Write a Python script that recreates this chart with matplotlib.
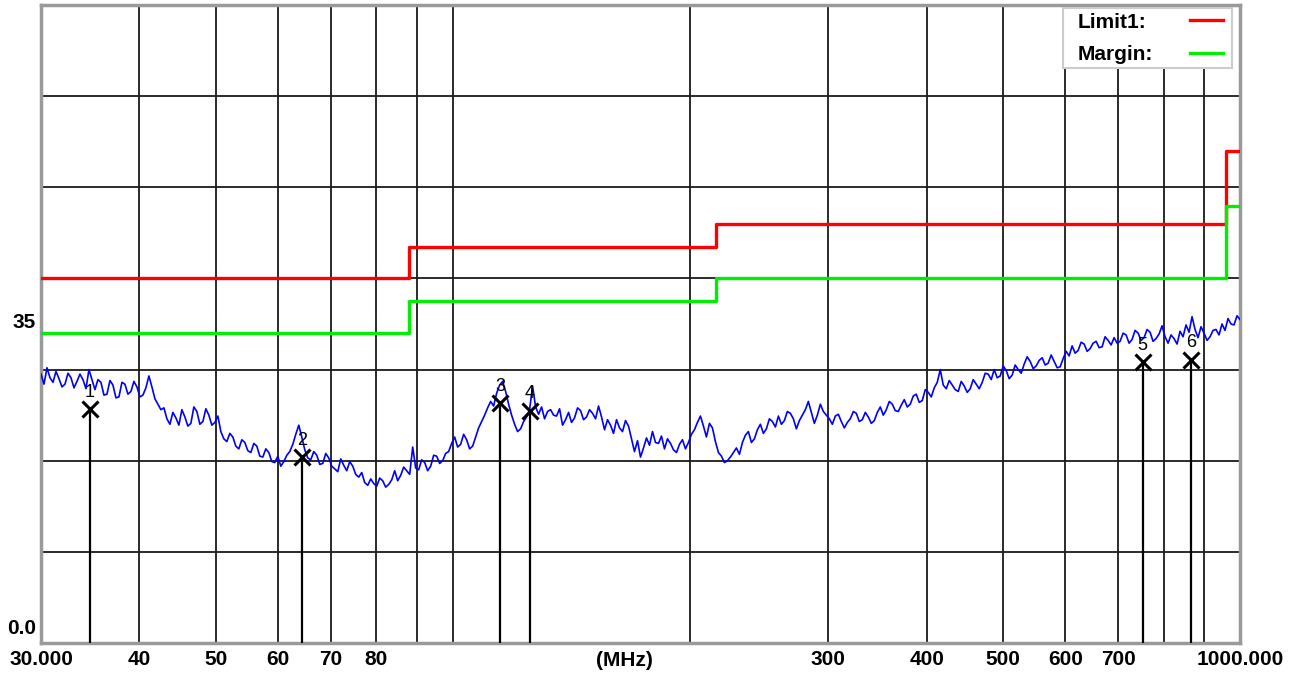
import matplotlib
matplotlib.use("Agg")
import matplotlib.pyplot as plt
import numpy as np
from matplotlib.patches import Rectangle
from matplotlib.lines import Line2D
from matplotlib.ticker import NullLocator

plt.rcParams['font.family'] = ['Liberation Sans', 'DejaVu Sans']

# ---- data ----
limit_freq = [30, 88, 216, 960, 1000]
limit_level = [40, 43.5, 46, 54, 54]
margin_level = [34, 37.5, 40, 48, 48]

# measured trace (dBuV/m), sweep points evenly spaced on the log frequency axis 30..1000 MHz
trace_level = [
    29.5, 28.4, 30.2, 29.1, 28.6, 29.8, 29.0, 28.1, 28.4, 29.6,
    29.1, 28.0, 28.7, 29.5, 28.9, 27.9, 30.0, 28.9, 27.8, 28.9,
    28.6, 27.2, 27.3, 28.8, 28.3, 26.9, 27.0, 28.6, 28.4, 27.3,
    27.6, 28.7, 28.1, 27.0, 27.2, 28.0, 29.3, 28.1, 26.8, 26.2,
    25.6, 25.8, 24.6, 24.0, 25.3, 24.7, 23.9, 25.6, 24.8, 23.8,
    24.1, 25.9, 25.4, 24.0, 24.3, 25.7, 25.0, 23.9, 24.2, 24.9,
    23.2, 22.4, 22.1, 23.0, 22.6, 21.6, 21.3, 22.3, 22.0, 21.1,
    20.9, 21.9, 21.6, 20.5, 20.4, 21.3, 20.9, 19.9, 19.8, 20.5,
    19.4, 19.9, 20.6, 21.0, 21.8, 22.9, 23.9, 22.6, 21.2, 20.3,
    20.1, 21.0, 20.6, 19.6, 19.7, 20.8, 20.3, 19.4, 19.1, 18.8,
    20.2, 19.5, 18.9, 19.9, 19.4, 18.5, 18.2, 18.7, 17.6, 17.3,
    18.0, 17.5, 17.2, 18.1, 17.8, 17.1, 17.4, 17.9, 18.9, 17.8,
    18.4, 19.3, 18.9, 18.5, 21.5, 19.2, 19.0, 20.1, 19.8, 18.9,
    19.4, 20.6, 20.5, 19.7, 20.0, 20.8, 21.0, 21.9, 22.6, 21.5,
    21.8, 22.9, 22.3, 21.3, 21.6, 22.6, 23.6, 24.3, 25.0, 25.8,
    26.5, 26.0, 27.4, 28.3, 28.7, 27.6, 26.2, 25.0, 24.0, 23.2,
    23.5, 24.3, 24.8, 25.6, 28.2, 25.9, 25.1, 25.9, 24.6, 25.4,
    25.6, 25.0, 24.9, 25.7, 23.9, 24.5, 25.3, 24.2, 24.7, 25.8,
    25.5, 24.5, 24.8, 25.6, 25.2, 24.6, 26.0, 24.8, 23.4, 24.5,
    23.9, 23.0, 24.5, 23.6, 23.2, 24.4, 23.8, 22.4, 21.0, 22.2,
    20.4, 21.4, 22.5, 21.7, 23.2, 22.0, 21.9, 22.7, 21.3, 22.4,
    21.9, 21.2, 20.9, 21.8, 22.3, 21.3, 22.0, 22.9, 23.4, 24.2,
    24.9, 23.8, 22.6, 24.1, 23.6, 22.1, 20.9, 20.5, 19.8, 20.0,
    20.4, 20.9, 21.4, 20.7, 22.0, 22.8, 23.2, 22.0, 22.4, 23.4,
    24.0, 23.0, 23.5, 24.6, 24.3, 23.7, 24.9, 24.0, 24.4, 25.4,
    25.2, 24.6, 23.5, 24.4, 25.0, 25.6, 26.5, 25.3, 24.1, 25.0,
    26.2, 25.4, 25.0, 24.6, 24.0, 24.9, 25.1, 24.3, 23.6, 24.2,
    24.6, 25.4, 25.2, 24.3, 24.5, 25.3, 24.8, 24.1, 24.4, 25.3,
    25.9, 25.0, 25.6, 26.5, 26.2, 25.5, 25.4, 26.1, 26.7, 25.9,
    26.2, 27.1, 27.3, 26.4, 26.6, 27.8, 27.5, 27.0, 28.0, 28.6,
    30.0, 28.3, 27.9, 28.8, 28.3, 27.8, 27.6, 28.7, 28.2, 27.5,
    27.9, 28.9, 28.4, 27.9, 28.6, 29.6, 29.5, 28.9, 30.0, 29.1,
    29.3, 30.4, 29.9, 29.0, 29.4, 30.5, 30.0, 29.6, 30.6, 31.4,
    30.9, 30.1, 30.4, 31.0, 31.3, 30.5, 30.7, 31.6, 30.9, 30.2,
    30.3, 31.2, 32.0, 31.5, 32.6, 31.8, 32.1, 33.0, 32.8, 32.0,
    32.3, 32.9, 33.1, 32.4, 32.5, 33.6, 33.2, 32.7, 33.5, 32.9,
    33.1, 34.0, 33.8, 32.9, 33.3, 34.3, 34.0, 33.2, 33.5, 34.4,
    34.1, 33.1, 33.4, 33.9, 34.8, 33.6, 32.9, 33.8, 33.4, 32.8,
    34.2, 33.6, 34.9, 34.1, 35.8, 34.4, 33.5, 34.7, 34.0, 33.2,
    33.6, 34.3, 34.4, 33.8, 35.0, 34.3, 35.6, 35.0, 34.9, 35.9,
    35.5,
]
trace_freq = np.geomspace(30, 1000, len(trace_level))

marker_freq = [34.6, 64.4, 114.8, 125.4, 752, 866]
marker_level = [25.7, 20.4, 26.3, 25.5, 30.8, 31.1]
marker_ids = ['1', '2', '3', '4', '5', '6']

grid_freq = [40, 50, 60, 70, 80, 90, 100, 200, 300, 400, 500, 600, 700, 800, 900]
grid_level = [10, 20, 30, 40, 50, 60]
xtick_freq = [30, 40, 50, 60, 70, 80, 300, 400, 500, 600, 700, 1000]
xtick_labels = ['30.000', '40', '50', '60', '70', '80', '300', '400', '500',
                '600', '700', '1000.000']

# ---- figure ----
W, H = 1296, 675
fig = plt.figure(figsize=(W / 100, H / 100), dpi=100)
fig.patch.set_facecolor('white')
ax = fig.add_axes([41 / W, 1 - 643 / H, 1199 / W, 638 / H])
ax.set_xscale('log')
ax.set_xlim(30, 1000)
ax.set_ylim(0, 70)

for f in grid_freq:
    ax.axvline(f, color='#1a1a1a', lw=1.3, zorder=1)
for lv in grid_level:
    ax.axhline(lv, color='#1a1a1a', lw=1.3, zorder=1)

ax.plot(limit_freq, limit_level, drawstyle='steps-post', color='#ff0000',
        lw=2.4, zorder=3)
ax.plot(limit_freq, margin_level, drawstyle='steps-post', color='#00ee00',
        lw=2.4, zorder=3)
ax.plot(trace_freq, trace_level, color='#0000ff', lw=1.2, zorder=4)

for f, lv, t in zip(marker_freq, marker_level, marker_ids):
    ax.plot([f, f], [0, lv], color='black', lw=1.6, zorder=5)
    ax.plot([f], [lv], marker='x', color='black', ms=11, mew=2.2, zorder=6)
    ax.annotate(t, (f, lv), xytext=(0, 12), textcoords='offset points',
                ha='center', va='center', fontsize=13, zorder=6)

ax.set_xticks(xtick_freq, xtick_labels)
ax.xaxis.set_minor_locator(NullLocator())
ax.tick_params(axis='x', length=0, pad=5, labelsize=15)
for lbl in ax.get_xticklabels():
    lbl.set_fontweight('bold')
ax.set_yticks([])

for s in ax.spines.values():
    s.set_color('#9a9a9a')
    s.set_linewidth(2.5)

ax.text(0.487, -0.013, '(MHz)', transform=ax.transAxes, ha='center', va='top',
        fontsize=15, fontweight='bold')
fig.text(36 / W, 1 - 628 / H, '0.0', ha='right', va='center', fontsize=15,
         fontweight='bold')
fig.text(36 / W, 1 - 322 / H, '35', ha='right', va='center', fontsize=15,
         fontweight='bold')

# legend box
fig.add_artist(Rectangle((1063 / W, 1 - 68 / H), 169 / W, 60 / H,
                         transform=fig.transFigure, facecolor='white',
                         edgecolor='#cccccc', lw=1.5, zorder=10))
fig.text(1078 / W, 1 - 22 / H, 'Limit1:', ha='left', va='center', fontsize=15,
         fontweight='bold', zorder=11)
fig.text(1078 / W, 1 - 54 / H, 'Margin:', ha='left', va='center', fontsize=15,
         fontweight='bold', zorder=11)
fig.add_artist(Line2D([1190 / W, 1223 / W], [1 - 20 / H, 1 - 20 / H],
                      transform=fig.transFigure, color='#ff0000', lw=2.4,
                      zorder=11))
fig.add_artist(Line2D([1190 / W, 1223 / W], [1 - 53 / H, 1 - 53 / H],
                      transform=fig.transFigure, color='#00ee00', lw=2.4,
                      zorder=11))

fig.savefig('out.png', dpi=100)
